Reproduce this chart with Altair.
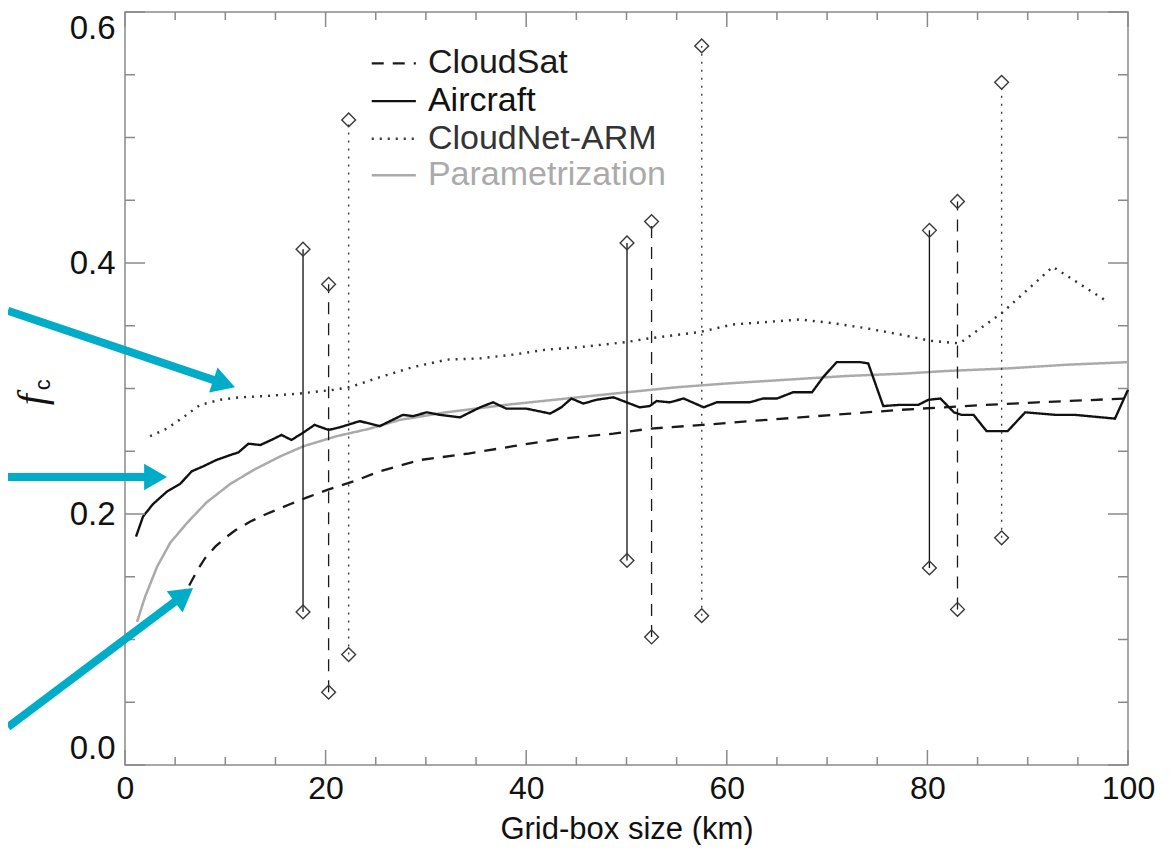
import math
import altair as alt
import pandas as pd

# ---------------- data ----------------
param_x = [1.2, 2.0, 3.2, 4.5, 6.2, 8.1, 10.5, 12.8, 15.5, 17.8, 21.1, 24.4, 27.4,
           32, 38, 44, 50, 55, 60, 66, 72, 78, 82, 88, 94, 100]
param_y = [0.114, 0.134, 0.158, 0.177, 0.193, 0.209, 0.224, 0.235, 0.246, 0.254, 0.262,
           0.268, 0.275, 0.281, 0.287, 0.292, 0.297, 0.301, 0.304, 0.307, 0.310, 0.312,
           0.314, 0.316, 0.319, 0.321]

aircraft_x = [1.1, 1.8, 2.8, 4.2, 5.5, 6.65, 7.8, 9.1, 10.5, 11.3,
              12.3, 13.5, 14.6, 15.6, 16.6, 17.8, 18.9, 20.3, 21.4, 23.4,
              25.4, 27.7, 28.7, 30.1, 31.4, 33.4, 35.4, 36.7, 38.0, 40.0,
              42.4, 43.5, 44.5, 45.7, 47.0, 48.7, 50.0, 51.3, 52.3, 53.0,
              54.3, 55.7, 57.7, 59.0, 62.3, 63.6, 65.0, 66.6, 68.5, 69.6,
              70.95, 73.3, 74.1, 75.6, 77.3, 79.1, 80.1, 81.3, 82.65, 83.4,
              84.6, 85.9, 88.0, 89.75, 92.8, 94.7, 98.7, 100]
aircraft_y = [0.182, 0.198, 0.208, 0.218, 0.224, 0.234, 0.238, 0.243, 0.247, 0.249,
              0.256, 0.255, 0.259, 0.263, 0.259, 0.265, 0.271, 0.267, 0.269, 0.274,
              0.270, 0.279, 0.278, 0.281, 0.279, 0.277, 0.285, 0.289, 0.284, 0.284,
              0.280, 0.285, 0.292, 0.288, 0.291, 0.293, 0.289, 0.285, 0.286, 0.290,
              0.289, 0.292, 0.285, 0.289, 0.289, 0.292, 0.292, 0.297, 0.297, 0.309,
              0.321, 0.321, 0.320, 0.286, 0.287, 0.287, 0.291, 0.292, 0.281, 0.279,
              0.279, 0.266, 0.266, 0.281, 0.279, 0.279, 0.276, 0.299]

cloudsat_x = [6.4, 7.2, 8.0, 9.0, 10.0, 11.0, 12.5, 14.1, 16.5, 18.1, 20.1, 22.8, 25.4,
              29.4, 34.1, 38.7, 43.4, 48.7, 52.3, 57.6, 62.3, 67.3, 72.3, 77.3, 81.6,
              83.7, 91.0, 99.75]
cloudsat_y = [0.143, 0.155, 0.165, 0.174, 0.181, 0.187, 0.194, 0.200, 0.208, 0.213,
              0.219, 0.226, 0.234, 0.243, 0.248, 0.254, 0.260, 0.264, 0.268, 0.271,
              0.274, 0.277, 0.280, 0.283, 0.285, 0.286, 0.289, 0.292]

cloudnet_x = [2.5, 4.15, 5.8, 7.5, 9.5, 11.5, 14.1, 17.4, 20.8, 22.4,
              25.4, 28.7, 32.1, 35.4, 38.7, 42.0, 45.4, 50, 52.3, 55.3,
              57.3, 60.6, 64.0, 67.3, 70.6, 73.9, 77.3, 80.3, 83.2, 87.4,
              92.5, 97.6]
cloudnet_y = [0.262, 0.268, 0.277, 0.287, 0.291, 0.293, 0.294, 0.296, 0.299, 0.301,
              0.309, 0.317, 0.323, 0.324, 0.327, 0.331, 0.333, 0.337, 0.340, 0.343,
              0.345, 0.351, 0.353, 0.355, 0.352, 0.348, 0.343, 0.338, 0.336, 0.360,
              0.397, 0.371]

# range bars (diamonds at both ends)
bar_series = ["Aircraft", "CloudSat", "CloudNet-ARM"] * 3
bar_x = [17.75, 20.3, 22.3, 50.05, 52.5, 57.5, 80.2, 83.0, 87.4]
bar_lo = [0.122, 0.058, 0.088, 0.163, 0.102, 0.119, 0.157, 0.124, 0.181]
bar_hi = [0.411, 0.383, 0.514, 0.416, 0.433, 0.573, 0.426, 0.449, 0.544]

# axis ticks
x_major = [0, 20, 40, 60, 80, 100]
x_minor = [5, 10, 15, 25, 30, 35, 45, 50, 55, 65, 70, 75, 85, 90, 95]
y_major = [0.0, 0.2, 0.4, 0.6]
y_minor = [0.05, 0.1, 0.15, 0.25, 0.3, 0.35, 0.45, 0.5, 0.55]

# legend
legend_series = ["CloudSat", "Aircraft", "CloudNet-ARM", "Parametrization"]
legend_y = [0.559, 0.529, 0.499, 0.470]
legend_x0, legend_x1, legend_xt = 24.6, 29.0, 30.2

# cyan annotation arrows (tail -> tip, data coordinates)
arrow_tail_x = [-11.67, -11.67, -11.67]
arrow_tail_y = [0.362, 0.2295, 0.0303]
arrow_tip_x = [10.97, 4.19, 6.78]
arrow_tip_y = [0.301, 0.2295, 0.141]

# y-axis label f_c
ylab_f = (-9.17, 0.291)
ylab_c = (-8.18, 0.303)

# ---------------- chart ----------------
W, H = 1003, 753
X_DOMAIN = [0, 100]
Y_DOMAIN = [0, 0.6]
FONT = "Liberation Sans"
FS = 33
XFS = 32
LFS = 34
CYAN = "#00acc8"
AXC = "#8a8a8a"

xs = alt.Scale(domain=X_DOMAIN, nice=False, zero=False)
ys = alt.Scale(domain=Y_DOMAIN, nice=False, zero=False)

SERIES = ["CloudSat", "Aircraft", "CloudNet-ARM", "Parametrization"]
COLORS = ["#1a1a1a", "#111111", "#333333", "#aaaaaa"]
DASHES = [[12, 9], [1, 0], [2, 6], [1, 0]]
WIDTHS = [2.3, 2.5, 2.4, 1.8]

color_s = alt.Color("series:N", scale=alt.Scale(domain=SERIES, range=COLORS), legend=None)
dash_s = alt.StrokeDash("series:N", scale=alt.Scale(domain=SERIES, range=DASHES), legend=None)
width_s = alt.StrokeWidth("series:N", scale=alt.Scale(domain=SERIES, range=WIDTHS), legend=None)

curves = pd.concat([
    pd.DataFrame({"x": param_x, "y": param_y, "series": "Parametrization"}),
    pd.DataFrame({"x": cloudsat_x, "y": cloudsat_y, "series": "CloudSat"}),
    pd.DataFrame({"x": aircraft_x, "y": aircraft_y, "series": "Aircraft"}),
    pd.DataFrame({"x": cloudnet_x, "y": cloudnet_y, "series": "CloudNet-ARM"}),
], ignore_index=True)

x_axis = alt.Axis(values=x_major, format="d", ticks=False, domain=False, grid=False,
                  labelFont=FONT, labelFontSize=XFS, labelColor="#111", labelPadding=8,
                  labelFlush=False,
                  title="Grid-box size (km)", titleFont=FONT, titleFontSize=31,
                  titleFontWeight="normal", titleColor="#111",
                  titleBaseline="alphabetic", titleY=73)
y_axis = alt.Axis(values=y_major, format=".1f", ticks=False, domain=False, grid=False,
                  labelFont=FONT, labelFontSize=FS, labelColor="#111", labelPadding=10,
                  labelFlush=True, title=None)

lines = alt.Chart(curves).mark_line(strokeCap="butt").encode(
    x=alt.X("x:Q", scale=xs, axis=x_axis),
    y=alt.Y("y:Q", scale=ys, axis=y_axis),
    color=color_s, strokeDash=dash_s, strokeWidth=width_s,
    detail="series:N",
)

bars = pd.DataFrame({"x": bar_x, "lo": bar_lo, "hi": bar_hi, "series": bar_series})
BAR_SER = ["Aircraft", "CloudSat", "CloudNet-ARM"]
bar_rules = alt.Chart(bars).mark_rule(strokeWidth=1.3).encode(
    x=alt.X("x:Q", scale=xs, axis=None),
    y=alt.Y("lo:Q", scale=ys, axis=None),
    y2="hi:Q",
    color=alt.Color("series:N", scale=alt.Scale(domain=BAR_SER, range=["#3a3a3a", "#3a3a3a", "#666666"]), legend=None),
    strokeDash=alt.StrokeDash("series:N", scale=alt.Scale(domain=BAR_SER, range=[[1, 0], [16, 9], [2, 4]]), legend=None),
)
ends = pd.concat([
    pd.DataFrame({"x": bar_x, "y": bar_lo}),
    pd.DataFrame({"x": bar_x, "y": bar_hi}),
], ignore_index=True)
diamonds = alt.Chart(ends).mark_point(shape="diamond", size=190, filled=False,
                                      color="#3a3a3a", strokeWidth=1.4, opacity=1).encode(
    x=alt.X("x:Q", scale=xs, axis=None),
    y=alt.Y("y:Q", scale=ys, axis=None),
)

# ticks pointing inwards (drawn as rules)
def yticks(vals, x0, x1):
    return alt.Chart(pd.DataFrame({"v": vals})).mark_rule(color=AXC, strokeWidth=1.5).encode(
        y=alt.Y("v:Q", scale=ys, axis=None), x=alt.value(x0), x2=alt.value(x1))

def xticks(vals, y0, y1):
    return alt.Chart(pd.DataFrame({"v": vals})).mark_rule(color=AXC, strokeWidth=1.5).encode(
        x=alt.X("v:Q", scale=xs, axis=None), y=alt.value(y0), y2=alt.value(y1))

tick_layers = [
    yticks(y_major, 0, 20), yticks(y_minor, 0, 10),
    yticks(y_major, W, W - 20), yticks(y_minor, W, W - 10),
    xticks(x_major, H, H - 15), xticks(x_minor, H, H - 8),
    xticks(x_major, 0, 15), xticks(x_minor, 0, 8),
]

# legend
leg = pd.DataFrame({"series": legend_series, "y": legend_y,
                    "x0": legend_x0, "x1": legend_x1, "xt": legend_xt})
leg_lines = alt.Chart(leg).mark_rule(strokeCap="butt").encode(
    x=alt.X("x0:Q", scale=xs, axis=None), x2="x1:Q",
    y=alt.Y("y:Q", scale=ys, axis=None),
    color=color_s, strokeDash=dash_s, strokeWidth=width_s,
)
leg_text = alt.Chart(leg).mark_text(align="left", baseline="middle", font=FONT, fontSize=LFS).encode(
    x=alt.X("xt:Q", scale=xs, axis=None),
    y=alt.Y("y:Q", scale=ys, axis=None),
    text="series:N",
    color=alt.Color("series:N", scale=alt.Scale(domain=SERIES, range=["#111", "#111", "#111", "#aaaaaa"]), legend=None),
)

# arrows
kx = W / (X_DOMAIN[1] - X_DOMAIN[0])
ky = H / (Y_DOMAIN[1] - Y_DOMAIN[0])
HEAD = 700
head_back = math.sqrt(HEAD) / 2 * 2 * math.tan(math.pi / 6)
rows = []
for tx, ty, hx, hy in zip(arrow_tail_x, arrow_tail_y, arrow_tip_x, arrow_tip_y):
    dxp = (hx - tx) * kx
    dyp = -(hy - ty) * ky
    L = math.hypot(dxp, dyp)
    ux, uy = dxp / L, dyp / L
    cx = hx - head_back * ux / kx
    cy = hy + head_back * uy / ky
    ang = (math.degrees(math.atan2(uy, ux)) + 90) % 360
    rows.append({"tx": tx, "ty": ty, "cx": cx, "cy": cy, "ang": ang})
arr = pd.DataFrame(rows)
shafts = alt.Chart(arr).mark_rule(color=CYAN, strokeWidth=8, strokeCap="butt").encode(
    x=alt.X("tx:Q", scale=xs, axis=None), y=alt.Y("ty:Q", scale=ys, axis=None),
    x2="cx:Q", y2="cy:Q")
heads = alt.Chart(arr).mark_point(shape="triangle", filled=True, size=HEAD, color=CYAN,
                                  opacity=1, strokeWidth=0).encode(
    x=alt.X("cx:Q", scale=xs, axis=None), y=alt.Y("cy:Q", scale=ys, axis=None),
    angle=alt.Angle("ang:Q", scale=None))

# y label f_c
ylab = pd.DataFrame({"x": [ylab_f[0]], "y": [ylab_f[1]], "t": ["f"]})
ylabc = pd.DataFrame({"x": [ylab_c[0]], "y": [ylab_c[1]], "t": ["c"]})
ytitle_f = alt.Chart(ylab).mark_text(angle=270, align="center", baseline="middle",
                                     font="Liberation Serif", fontStyle="italic",
                                     fontSize=40, color="#111").encode(
    x=alt.X("x:Q", scale=xs, axis=None), y=alt.Y("y:Q", scale=ys, axis=None), text="t:N")
ytitle_c = alt.Chart(ylabc).mark_text(angle=270, align="center", baseline="middle",
                                      font=FONT, fontSize=22, color="#111").encode(
    x=alt.X("x:Q", scale=xs, axis=None), y=alt.Y("y:Q", scale=ys, axis=None), text="t:N")

chart = alt.layer(
    lines, *tick_layers, bar_rules, diamonds, leg_lines, leg_text, shafts, heads,
    ytitle_f, ytitle_c,
).resolve_axis(x="independent", y="independent").properties(
    width=W, height=H,
    autosize=alt.AutoSizeParams(type="none"),
    padding={"left": 117, "top": 4, "right": 36, "bottom": 80},
).configure_view(stroke=AXC, strokeWidth=1.5)

chart.save("out.html", embed_options={"renderer": "svg", "actions": False})
